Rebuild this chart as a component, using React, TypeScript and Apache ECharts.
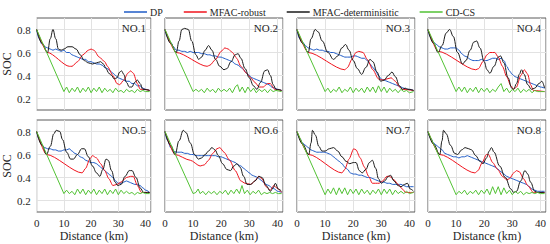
import React, { useEffect, useRef } from 'react';
import * as echarts from 'echarts';

const panelNames = ['NO.1', 'NO.2', 'NO.3', 'NO.4', 'NO.5', 'NO.6', 'NO.7', 'NO.8'];
const seriesNames = ['DP', 'MFAC-robust', 'MFAC-determinisitic', 'CD-CS'];
const xTicks = [0, 10, 20, 30, 40];
const yTicks = [0.2, 0.4, 0.6, 0.8];

const DP: number[][][] = [
  [[0,0.8],[1,0.72],[2,0.67],[3,0.65],[4,0.64],[5,0.63],[6,0.62],[7,0.63],[8,0.62],[9,0.61],[10,0.62],[11,0.6],[12,0.6],[13,0.58],[14,0.57],[15,0.56],[16,0.55],[17,0.54],[18,0.54],[19,0.52],[20,0.52],[21,0.51],[22,0.5],[23,0.5],[24,0.49],[25,0.47],[26,0.46],[27,0.44],[28,0.42],[29,0.4],[30,0.38],[31,0.37],[32,0.36],[33,0.35],[34,0.35],[35,0.33],[36,0.33],[37,0.31],[38,0.31],[39,0.29],[40,0.28],[41.5,0.27]],
  [[0,0.8],[1,0.73],[2,0.69],[3,0.65],[4,0.62],[5,0.62],[6,0.61],[7,0.61],[8,0.6],[9,0.61],[10,0.6],[11,0.6],[12,0.6],[13,0.59],[14,0.59],[15,0.58],[16,0.58],[17,0.57],[18,0.57],[19,0.56],[20,0.56],[21,0.55],[22,0.54],[23,0.53],[24,0.52],[25,0.5],[26,0.49],[27,0.47],[28,0.45],[29,0.42],[30,0.4],[31,0.38],[32,0.37],[33,0.36],[34,0.35],[35,0.34],[36,0.33],[37,0.32],[38,0.3],[39,0.29],[40,0.28],[41.5,0.27]],
  [[0,0.8],[1,0.72],[2,0.69],[3,0.66],[4,0.64],[5,0.63],[6,0.62],[7,0.63],[8,0.62],[9,0.62],[10,0.61],[11,0.61],[12,0.6],[13,0.6],[14,0.59],[15,0.58],[16,0.57],[17,0.56],[18,0.56],[19,0.56],[20,0.57],[21,0.57],[22,0.56],[23,0.55],[24,0.55],[25,0.53],[26,0.5],[27,0.47],[28,0.44],[29,0.4],[30,0.37],[31,0.36],[32,0.35],[33,0.34],[34,0.33],[35,0.32],[36,0.31],[37,0.3],[38,0.29],[39,0.28],[40,0.28],[41.5,0.27]],
  [[0,0.8],[1,0.73],[2,0.69],[3,0.67],[4,0.65],[5,0.64],[6,0.63],[7,0.63],[8,0.64],[9,0.64],[10,0.64],[11,0.62],[12,0.59],[13,0.57],[14,0.56],[15,0.54],[16,0.53],[17,0.53],[18,0.53],[19,0.54],[20,0.53],[21,0.53],[22,0.54],[23,0.55],[24,0.55],[25,0.54],[26,0.55],[27,0.53],[28,0.48],[29,0.44],[30,0.41],[31,0.39],[32,0.38],[33,0.37],[34,0.36],[35,0.35],[36,0.34],[37,0.33],[38,0.32],[39,0.31],[40,0.3],[41.5,0.29]],
  [[0,0.8],[1,0.73],[2,0.68],[3,0.66],[4,0.65],[5,0.65],[6,0.64],[7,0.64],[8,0.63],[9,0.63],[10,0.64],[11,0.64],[12,0.65],[13,0.63],[14,0.61],[15,0.6],[16,0.58],[17,0.57],[18,0.55],[19,0.54],[20,0.53],[21,0.53],[22,0.52],[23,0.5],[24,0.48],[25,0.46],[26,0.44],[27,0.42],[28,0.4],[29,0.37],[30,0.35],[31,0.35],[32,0.36],[33,0.37],[34,0.36],[35,0.35],[36,0.34],[37,0.34],[38,0.33],[39,0.31],[40,0.29],[41.5,0.27]],
  [[0,0.8],[1,0.72],[2,0.66],[3,0.63],[4,0.62],[5,0.62],[6,0.62],[7,0.61],[8,0.61],[9,0.6],[10,0.6],[11,0.59],[12,0.59],[13,0.59],[14,0.59],[15,0.59],[16,0.59],[17,0.59],[18,0.59],[19,0.58],[20,0.58],[21,0.57],[22,0.56],[23,0.55],[24,0.54],[25,0.53],[26,0.51],[27,0.5],[28,0.48],[29,0.46],[30,0.44],[31,0.42],[32,0.41],[33,0.4],[34,0.38],[35,0.36],[36,0.34],[37,0.33],[38,0.31],[39,0.3],[40,0.28],[41.5,0.27]],
  [[0,0.8],[1,0.74],[2,0.7],[3,0.68],[4,0.66],[5,0.64],[6,0.63],[7,0.62],[8,0.62],[9,0.62],[10,0.62],[11,0.61],[12,0.6],[13,0.58],[14,0.56],[15,0.54],[16,0.52],[17,0.49],[18,0.47],[19,0.44],[20,0.43],[21,0.43],[22,0.42],[23,0.42],[24,0.41],[25,0.4],[26,0.4],[27,0.39],[28,0.38],[29,0.37],[30,0.36],[31,0.36],[32,0.35],[33,0.35],[34,0.34],[35,0.34],[36,0.34],[37,0.34],[38,0.33],[39,0.32],[40,0.32],[41.5,0.32]],
  [[0,0.8],[1,0.74],[2,0.7],[3,0.68],[4,0.66],[5,0.64],[6,0.61],[7,0.6],[8,0.59],[9,0.58],[10,0.58],[11,0.57],[12,0.58],[13,0.58],[14,0.59],[15,0.58],[16,0.57],[17,0.56],[18,0.55],[19,0.54],[20,0.53],[21,0.52],[22,0.51],[23,0.5],[24,0.49],[25,0.47],[26,0.45],[27,0.43],[28,0.41],[29,0.4],[30,0.39],[31,0.38],[32,0.37],[33,0.36],[34,0.35],[35,0.34],[36,0.32],[37,0.3],[38,0.29],[39,0.28],[40,0.28],[41.5,0.28]],
];

const ROBUST: number[][][] = [
  [[0,0.8],[4,0.6],[12,0.48],[13,0.48],[15,0.52],[17,0.58],[19,0.62],[20,0.63],[21,0.62],[23,0.56],[25,0.52],[26,0.48],[28,0.4],[29.5,0.33],[30.5,0.32],[32,0.36],[33.5,0.42],[34.5,0.44],[35.5,0.42],[37,0.33],[38,0.28],[39.5,0.28],[41.5,0.27]],
  [[0,0.8],[4,0.6],[15,0.48],[16,0.49],[18,0.54],[20,0.61],[21.3,0.64],[22.5,0.63],[24,0.6],[25.5,0.55],[27,0.48],[29,0.42],[30.5,0.38],[32,0.34],[33.5,0.3],[35,0.3],[36.5,0.33],[37.5,0.33],[39,0.28],[41.5,0.27]],
  [[0,0.8],[4,0.6],[17,0.45],[18,0.47],[19.5,0.54],[21,0.6],[22,0.61],[23.5,0.6],[25,0.54],[27,0.45],[29,0.37],[30.5,0.36],[32,0.37],[33.5,0.38],[35,0.35],[36.5,0.3],[37.5,0.28],[41.5,0.27]],
  [[0,0.8],[3.6,0.61],[17,0.45],[18,0.46],[19.5,0.52],[21,0.58],[22,0.6],[23.8,0.6],[25,0.56],[26.5,0.48],[28,0.39],[29.5,0.31],[30.5,0.28],[31.5,0.3],[33,0.4],[34.3,0.45],[35.5,0.41],[36.5,0.32],[37.5,0.27],[41.5,0.26]],
  [[0,0.8],[3.6,0.6],[16.7,0.44],[18,0.48],[19.5,0.56],[20.5,0.59],[22,0.57],[23.5,0.52],[25,0.46],[26.5,0.39],[28,0.33],[29.5,0.34],[31,0.36],[33,0.4],[34.5,0.41],[35.5,0.41],[37,0.33],[38.5,0.27],[41.5,0.27]],
  [[0,0.8],[3.6,0.6],[9,0.55],[12.5,0.5],[14,0.51],[15.5,0.55],[17,0.61],[18.5,0.65],[19.5,0.66],[21,0.62],[23,0.55],[25,0.46],[27,0.37],[28.5,0.35],[30.5,0.34],[32,0.37],[33.3,0.41],[34.5,0.39],[36,0.32],[37.5,0.29],[38.7,0.33],[39.8,0.31],[41.5,0.27]],
  [[0,0.8],[4.2,0.6],[16,0.44],[17,0.47],[18.5,0.56],[20.2,0.65],[21,0.64],[22.5,0.57],[24,0.49],[25.5,0.41],[26.8,0.35],[28,0.35],[29.2,0.35],[30.5,0.37],[32,0.41],[33,0.41],[34.5,0.38],[36,0.34],[37.5,0.3],[38.7,0.27],[41.5,0.27]],
  [[0,0.8],[4.2,0.6],[16.7,0.44],[17.8,0.46],[19.3,0.53],[20.8,0.6],[21.5,0.6],[23,0.53],[24.8,0.47],[26.5,0.41],[28,0.38],[29,0.39],[30.5,0.44],[31.5,0.46],[32.5,0.45],[34,0.39],[35.5,0.33],[37.5,0.27],[41.5,0.27]],
];

const DETER: number[][][] = [
  [[0,0.8],[2,0.68],[4,0.6],[5,0.72],[6,0.8],[7,0.72],[8,0.63],[9,0.62],[10,0.63],[11.5,0.65],[13,0.65],[14.5,0.63],[16,0.58],[17.5,0.53],[19,0.51],[20.5,0.5],[22,0.51],[23.5,0.52],[24.5,0.5],[25.5,0.46],[26.5,0.42],[27.5,0.4],[28.5,0.37],[29.5,0.38],[30.5,0.43],[31.2,0.44],[32,0.41],[33,0.34],[34,0.3],[35,0.3],[36,0.34],[37,0.36],[38,0.33],[39,0.28],[41.5,0.27]],
  [[0,0.8],[2,0.68],[4,0.6],[5,0.7],[6,0.8],[7,0.81],[8.3,0.8],[9.5,0.7],[11,0.58],[12,0.54],[13,0.56],[14.3,0.62],[15.5,0.66],[16.7,0.62],[18,0.54],[19.5,0.48],[21,0.45],[22,0.46],[23.5,0.52],[25,0.58],[26,0.59],[27,0.55],[28.5,0.46],[30,0.38],[31.5,0.31],[32.7,0.28],[34,0.34],[35.5,0.44],[36.5,0.45],[37.5,0.4],[38.5,0.32],[39.5,0.28],[41.5,0.27]],
  [[0,0.8],[2,0.68],[4,0.6],[5,0.72],[6.5,0.8],[7.5,0.78],[9,0.7],[11,0.6],[13,0.54],[14.5,0.57],[16,0.64],[17.3,0.67],[18.5,0.62],[20,0.53],[21.5,0.46],[23,0.41],[24.5,0.47],[26,0.54],[27,0.52],[28.5,0.43],[29.8,0.35],[31,0.36],[32.5,0.4],[33.8,0.43],[35,0.39],[36.5,0.31],[37.5,0.28],[38.5,0.29],[39.5,0.28],[41.5,0.27]],
  [[0,0.8],[2,0.68],[3.6,0.6],[5,0.66],[6.5,0.77],[7.7,0.8],[9,0.74],[10.5,0.6],[12.3,0.5],[13.5,0.53],[15,0.62],[16.3,0.69],[17.3,0.7],[18.5,0.64],[20,0.52],[21,0.45],[22,0.42],[23.5,0.48],[25,0.56],[25.8,0.57],[27,0.51],[28.5,0.38],[29.8,0.29],[30.5,0.28],[31.5,0.33],[32.5,0.41],[33.3,0.45],[34.2,0.41],[35.5,0.32],[36.8,0.28],[38,0.29],[39.5,0.33],[40.5,0.35],[41.5,0.29]],
  [[0,0.8],[2,0.68],[3.6,0.6],[5,0.67],[6.3,0.78],[7.2,0.81],[8.5,0.8],[9.5,0.73],[11,0.62],[12.5,0.56],[13.5,0.56],[15,0.6],[16.5,0.65],[17.5,0.65],[19,0.58],[20.5,0.5],[22,0.44],[23.2,0.41],[24.3,0.47],[25.5,0.56],[26.3,0.55],[27.5,0.46],[28.8,0.36],[29.8,0.33],[31,0.34],[32.5,0.41],[34,0.46],[35,0.46],[36.5,0.4],[38,0.31],[39.3,0.27],[41.5,0.27]],
  [[0,0.8],[2,0.68],[3.6,0.6],[5,0.72],[6.5,0.81],[7.5,0.79],[9,0.7],[10.5,0.6],[11.9,0.56],[13,0.57],[14.3,0.6],[15.5,0.63],[16.7,0.66],[17.8,0.64],[19,0.59],[20.5,0.52],[22,0.47],[23.3,0.46],[24.5,0.5],[25.6,0.52],[26.7,0.49],[28,0.41],[29.2,0.34],[30.5,0.34],[32,0.37],[33.5,0.41],[34.5,0.4],[36,0.33],[37.5,0.28],[38.5,0.31],[39.3,0.35],[40.3,0.3],[41.5,0.28]],
  [[0,0.8],[2,0.69],[4.2,0.6],[5,0.7],[5.5,0.81],[6.5,0.77],[7.8,0.67],[8.9,0.63],[10,0.63],[11.5,0.65],[13,0.66],[14.5,0.63],[16,0.58],[17.5,0.54],[18.8,0.52],[20,0.53],[21,0.53],[22.2,0.46],[23.2,0.44],[24.5,0.47],[25.8,0.53],[26.8,0.55],[28,0.48],[29,0.39],[30,0.35],[31.2,0.37],[32.5,0.41],[33.3,0.42],[34.5,0.37],[36,0.33],[37,0.32],[38.3,0.34],[39.3,0.35],[40.3,0.3],[41.5,0.28]],
  [[0,0.8],[2,0.69],[4.2,0.6],[5,0.72],[5.5,0.81],[6.5,0.78],[8,0.68],[9.5,0.61],[10.5,0.6],[12,0.64],[13.2,0.66],[14.5,0.65],[15.5,0.64],[17,0.59],[18.5,0.54],[19.6,0.52],[20.8,0.57],[21.8,0.63],[22.6,0.66],[23.5,0.62],[25.5,0.5],[27.5,0.4],[29.5,0.3],[30.5,0.27],[31.5,0.28],[33,0.37],[34.5,0.46],[35.5,0.43],[36.5,0.36],[38,0.28],[39,0.27],[41.5,0.27]],
];

const CDCS: number[][][] = [
  [[0,0.8],[10,0.26],[11,0.3],[12,0.25],[13,0.29],[14,0.26],[15,0.3],[16,0.25],[17,0.29],[18,0.26],[19,0.3],[20,0.25],[21,0.29],[22,0.26],[23,0.3],[24,0.25],[25,0.29],[26,0.26],[27,0.28],[28,0.25],[29,0.29],[30,0.26],[31,0.27],[32,0.25],[33,0.28],[34,0.26],[35,0.27],[36,0.25],[37,0.28],[38,0.26],[39,0.27],[40,0.26],[41.5,0.26]],
  [[0,0.8],[10,0.26],[11,0.28],[12,0.26],[13,0.28],[14,0.25],[15,0.29],[16,0.26],[17,0.28],[18,0.25],[19,0.29],[20,0.26],[21,0.28],[22,0.26],[23,0.29],[24,0.25],[25,0.3],[25.8,0.32],[26.6,0.26],[27.5,0.3],[28.5,0.25],[29.5,0.3],[30.5,0.26],[31.5,0.29],[32.5,0.25],[33.5,0.28],[34.5,0.26],[35.5,0.28],[36.5,0.25],[37.5,0.28],[38.5,0.26],[39.5,0.27],[41.5,0.26]],
  [[0,0.8],[10,0.26],[11,0.29],[12,0.25],[13,0.28],[14,0.26],[15,0.3],[16,0.25],[17,0.28],[18,0.26],[19,0.3],[20,0.25],[21,0.29],[22,0.26],[23,0.29],[24,0.25],[25,0.3],[26,0.26],[27,0.3],[28,0.25],[29,0.31],[30,0.26],[31,0.3],[32,0.25],[33,0.29],[34,0.26],[35,0.28],[36,0.25],[37,0.28],[38,0.26],[39,0.27],[40,0.25],[41.5,0.26]],
  [[0,0.8],[10,0.26],[11,0.3],[12,0.26],[13,0.3],[14,0.25],[15,0.29],[16,0.26],[17,0.3],[18,0.25],[19,0.29],[20,0.26],[21,0.29],[22,0.25],[23,0.28],[24,0.26],[25,0.3],[26,0.33],[27,0.26],[28,0.29],[29,0.25],[30,0.28],[31,0.26],[32,0.29],[33,0.25],[34,0.28],[35,0.26],[36,0.28],[37,0.25],[38,0.27],[39,0.26],[40,0.26],[41.5,0.26]],
  [[0,0.8],[10,0.26],[11,0.29],[12,0.26],[13,0.28],[14,0.25],[15,0.3],[16,0.26],[17,0.3],[18,0.25],[19,0.29],[20,0.26],[21,0.3],[22,0.25],[23,0.29],[24,0.26],[25,0.3],[26,0.25],[27,0.29],[28,0.26],[29,0.3],[30,0.25],[31,0.29],[32,0.26],[33,0.28],[34,0.26],[35,0.27],[36,0.25],[37,0.27],[38,0.26],[39,0.27],[40,0.26],[41.5,0.26]],
  [[0,0.8],[10,0.26],[11,0.27],[11.8,0.3],[12.5,0.26],[13.5,0.28],[14.5,0.25],[15.5,0.28],[16.5,0.26],[17.5,0.28],[18.5,0.25],[19.5,0.28],[20.5,0.26],[21.5,0.29],[22.5,0.25],[23.5,0.29],[24.5,0.26],[25.5,0.3],[26.5,0.26],[27.4,0.33],[28.3,0.26],[29.3,0.29],[30.3,0.25],[31.3,0.28],[32.3,0.26],[33.3,0.29],[34.3,0.25],[35.3,0.27],[36.3,0.26],[37.3,0.27],[38.3,0.26],[39.3,0.27],[40.3,0.26],[41.5,0.26]],
  [[0,0.8],[10,0.25],[11,0.3],[12,0.26],[13,0.31],[14,0.25],[15,0.31],[16,0.26],[17,0.31],[18,0.25],[19,0.3],[20,0.26],[21,0.3],[22,0.25],[23,0.3],[24,0.26],[25,0.29],[26,0.25],[27,0.29],[28,0.26],[29,0.3],[30,0.25],[31,0.3],[32,0.26],[33,0.3],[34,0.25],[35,0.29],[36,0.26],[37,0.28],[38,0.26],[39,0.28],[40,0.26],[41.5,0.27]],
  [[0,0.8],[10,0.25],[11,0.28],[12,0.26],[13,0.29],[14,0.25],[15,0.28],[16,0.26],[17,0.29],[18,0.25],[19,0.29],[20,0.26],[21,0.3],[22,0.25],[23,0.32],[24,0.26],[25,0.32],[26,0.25],[27,0.31],[28,0.26],[29,0.29],[30,0.25],[31,0.28],[32,0.26],[33,0.28],[34,0.25],[35,0.27],[36,0.26],[37,0.27],[38,0.26],[39,0.27],[40,0.26],[41.5,0.26]],
];

const colors = ['#1f5bc6', '#f0141e', '#1a1a1a', '#52c234'];
const FONT = 'Liberation Serif';

export default function App() {
  const ref = useRef<HTMLDivElement>(null);
  useEffect(() => {
    if (!ref.current) return;
    const chart = echarts.init(ref.current, undefined, { renderer: 'svg' });
    const lefts = [33, 165, 297, 428];
    const tops = [18, 120];
    const W = 118;
    const H = 92;
    const grids: any[] = [];
    const xAxes: any[] = [];
    const yAxes: any[] = [];
    const series: any[] = [];
    const graphics: any[] = [];
    const allData = [DP, ROBUST, DETER, CDCS];
    for (let i = 0; i < 8; i++) {
      const row = Math.floor(i / 4);
      const col = i % 4;
      grids.push({
        left: lefts[col], top: tops[row], width: W, height: H,
        show: true, borderColor: '#5a5a5a', borderWidth: 1, backgroundColor: '#fff',
      });
      xAxes.push({
        type: 'value', gridIndex: i, min: 0, max: 42, interval: 10,
        axisLine: { show: false }, axisTick: { show: false },
        axisLabel: { show: row === 1, fontFamily: FONT, fontSize: 11, color: '#262626', margin: 5, customValues: xTicks },
        splitLine: { show: true, lineStyle: { color: '#e2e2e2', width: 1 } },
        name: row === 1 ? 'Distance (km)' : '', nameLocation: 'middle', nameGap: 18,
        nameTextStyle: { fontFamily: FONT, fontSize: 12, color: '#262626' },
      });
      yAxes.push({
        type: 'value', gridIndex: i, min: 0.1, max: 0.9, interval: 0.1,
        axisLine: { show: false },
        axisTick: { show: false, customValues: yTicks },
        axisLabel: { show: col === 0, fontFamily: FONT, fontSize: 11, color: '#262626', margin: 6, customValues: yTicks, formatter: (v: number) => v.toFixed(1) },
        splitLine: { show: true, customValues: yTicks, lineStyle: { color: '#e2e2e2', width: 1 } },
        name: col === 0 ? 'SOC' : '', nameLocation: 'middle', nameGap: 22, nameRotate: 90,
        nameTextStyle: { fontFamily: FONT, fontSize: 12, color: '#262626' },
      });
      allData.forEach((arr, k) => {
        series.push({
          name: seriesNames[k], type: 'line', xAxisIndex: i, yAxisIndex: i,
          data: arr[i], symbol: 'none', showSymbol: false,
          smooth: k === 3 ? false : (k === 1 ? 0.25 : 0.4), smoothMonotone: 'x',
          lineStyle: { width: 1, color: colors[k] }, itemStyle: { color: colors[k] },
          z: 2 + k,
        });
      });
      graphics.push({
        type: 'text', x: lefts[col] + W - 5, y: tops[row] + 4,
        style: { text: panelNames[i], fontFamily: FONT, fontSize: 11, fill: '#262626', align: 'right', verticalAlign: 'top' },
        z: 100,
      });
    }
    chart.setOption({
      animation: false,
      backgroundColor: '#fff',
      color: colors,
      legend: {
        top: 2, left: 119, itemWidth: 23, itemHeight: 1.5, itemGap: 21, icon: 'rect',
        textStyle: { fontFamily: FONT, fontSize: 10, color: '#262626', padding: [0, 0, 0, -2] },
        data: seriesNames,
      },
      grid: grids, xAxis: xAxes, yAxis: yAxes, series, graphic: graphics,
    });
    return () => chart.dispose();
  }, []);
  return <div ref={ref} style={{ width: 550, height: 244, position: 'absolute', left: 0, top: 0 }} />;
}
